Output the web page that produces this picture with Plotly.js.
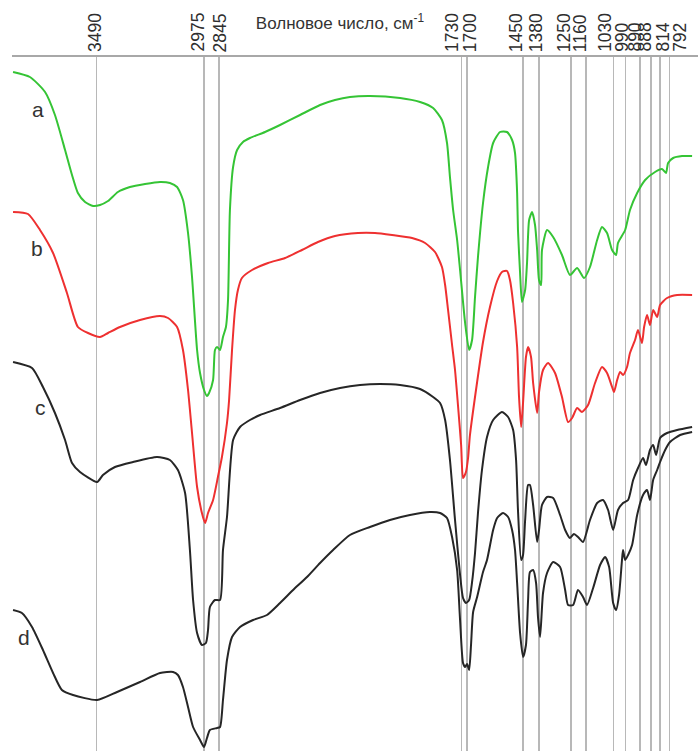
<!DOCTYPE html>
<html>
<head>
<meta charset="utf-8">
<script src="https://cdn.plot.ly/plotly-3.0.1.min.js"></script>
<style>html,body{margin:0;padding:0;background:#fff;}#chart{width:698px;height:751px;}</style>
</head>
<body>
<div id="chart"></div>
<script>
// Wavenumber scale of the plot (cm-1), reversed; peak marker positions and their printed labels
const peakPos    = [3492, 2981, 2910, 1758, 1733, 1467, 1391, 1239, 1166, 1037, 980, 910, 858, 815, 771];
const peakLabels = ["3490","2975","2845","1730","1700","1450","1380","1250","1160","1030","990","890","888","814","792"];

// Spectrum a (green)
const aX = [3888,3808,3736,3689,3641,3608,3580,3546,3508,3475,3437,3390,3333,3261,3190,3143,3109,3081,3057,3038,3014,3000,2981,2967,2957,2938,2929,2919,2905,2891,2877,2867,2858,2843,2824,2796,2763,2691,2620,2525,2430,2359,2288,2193,2050,1955,1893,1851,1827,1813,1798,1779,1765,1741,1722,1708,1694,1680,1656,1632,1608,1575,1542,1518,1504,1494,1490,1480,1471,1456,1447,1437,1423,1409,1399,1390,1380,1376,1352,1323,1281,1243,1209,1176,1148,1114,1091,1067,1043,1024,1015,981,958,924,886,839,806,787,777,753,711,663];
const aY = [679,674,659,636,601,576,558,549,545,546,550,559,564,567,569,568,564,551,518,474,401,378,361,355,358,371,401,404,401,414,424,451,541,584,601,609,613,619,626,636,646,651,654,655,653,649,643,631,608,574,541,511,481,428,401,411,454,494,548,584,608,619,619,611,598,558,521,478,449,461,488,531,539,526,501,471,466,501,521,514,496,476,483,473,484,511,524,518,501,496,508,521,541,558,571,579,582,578,588,593,595,595];

// Spectrum b (red)
const bX = [3888,3817,3760,3698,3632,3580,3532,3475,3437,3380,3285,3190,3152,3109,3081,3057,3038,3014,2991,2976,2962,2938,2915,2896,2872,2862,2848,2834,2820,2801,2753,2677,2596,2516,2440,2359,2250,2169,2088,1993,1931,1884,1851,1836,1822,1803,1789,1775,1760,1751,1737,1727,1718,1684,1656,1623,1589,1566,1542,1528,1513,1494,1485,1475,1466,1452,1442,1428,1418,1399,1390,1371,1347,1314,1281,1252,1233,1209,1186,1157,1124,1091,1067,1043,1034,1019,1005,991,972,958,934,920,901,891,877,863,848,829,815,782,734,663];
const bY = [539,537,521,498,458,424,418,414,418,424,431,435,433,424,401,361,318,264,238,228,238,251,274,294,328,351,401,441,461,473,481,488,493,501,509,515,518,518,516,513,508,499,484,466,441,406,381,346,306,273,279,293,316,369,409,444,470,479,480,471,448,404,354,324,348,394,404,394,368,338,359,381,388,378,354,329,333,343,339,346,368,384,378,364,359,371,379,376,384,398,411,421,408,424,436,426,441,434,446,453,456,456];

// Spectrum c (black, upper)
const cX = [3888,3798,3746,3689,3641,3608,3570,3489,3461,3404,3318,3204,3143,3105,3071,3048,3033,3014,2991,2972,2962,2953,2929,2905,2891,2872,2843,2810,2763,2715,2620,2525,2430,2335,2240,2145,2050,1955,1893,1860,1836,1813,1789,1765,1751,1737,1722,1708,1694,1680,1661,1637,1608,1566,1537,1513,1499,1490,1475,1466,1456,1442,1433,1418,1399,1390,1376,1352,1323,1290,1266,1243,1224,1205,1181,1148,1114,1086,1062,1038,1015,991,967,943,920,896,882,863,848,834,815,782,734,663];
const cY = [389,383,364,338,311,288,279,269,276,284,289,294,291,281,258,201,151,118,106,108,121,144,151,151,201,234,311,324,331,336,343,351,358,363,366,367,366,362,354,348,331,291,231,176,153,148,151,169,198,238,281,314,331,339,334,321,291,241,191,196,231,266,266,246,209,221,246,254,253,236,221,213,217,214,209,231,248,251,241,221,241,248,251,271,283,293,286,301,306,296,313,318,321,324];

// Spectrum d (black, lower)
const dX = [3888,3846,3798,3746,3698,3656,3603,3489,3394,3285,3190,3128,3105,3081,3057,3033,3000,2981,2967,2953,2919,2905,2891,2872,2848,2810,2748,2682,2620,2558,2492,2430,2368,2288,2193,2098,2003,1908,1860,1827,1803,1779,1765,1751,1741,1732,1722,1713,1703,1684,1656,1637,1608,1589,1561,1537,1518,1504,1494,1480,1466,1452,1442,1433,1418,1404,1395,1385,1371,1352,1323,1290,1266,1252,1228,1205,1181,1162,1133,1100,1076,1057,1038,1024,1010,996,991,981,967,948,924,896,877,863,848,829,815,791,768,720,663];
const dY = [141,138,124,101,78,61,56,51,59,69,78,79,76,64,44,24,11,4,13,21,23,24,51,91,114,124,131,136,148,161,174,188,201,216,224,231,236,239,238,233,214,181,131,88,84,87,81,106,139,154,179,191,221,233,238,234,221,201,168,118,94,106,151,179,181,168,134,114,158,178,189,184,161,146,146,161,154,146,163,186,194,184,148,141,156,191,201,191,196,206,236,256,261,251,271,281,289,301,309,316,319];

const seriesNames = ["a","b","c","d"];
const seriesColors = ["#35c435","#ee3030","#262626","#262626"];
const seriesData = [[aX,aY],[bX,bY],[cX,cY],[dX,dY]];
const seriesLabelAt = [[3770,642],[3774,503],[3760,344],[3836,114]];

// label nudges in px (layout only)
const labelNudge = [-2,-7,1,-10,3,-7,-3,-7,-6,-9,-4,-6,-7,2,10];

const traces = seriesData.map((s,i)=>({
  x: s[0], y: s[1], type: 'scatter', mode: 'lines', name: seriesNames[i],
  line: {color: seriesColors[i], width: 2, shape: 'spline', smoothing: 0.6},
  hoverinfo: 'skip', showlegend: false
}));

const font = "Liberation Sans, Arial, sans-serif";
const annotations = [];
peakPos.forEach((p,i)=>{
  annotations.push({
    x: p, xref: 'x', y: 1, yref: 'paper', yanchor: 'bottom', xanchor: 'center',
    yshift: 3, xshift: labelNudge[i], textangle: -90, showarrow: false,
    text: peakLabels[i], font: {family: font, size: 17.5, color: '#2e2e2e'}
  });
});
seriesNames.forEach((n,i)=>{
  annotations.push({
    x: seriesLabelAt[i][0], y: seriesLabelAt[i][1], xref: 'x', yref: 'y',
    text: n, showarrow: false, font: {family: font, size: 21, color: '#333'}
  });
});

const layout = {
  width: 698, height: 751,
  margin: {l: 12, r: 0, t: 57, b: 0, pad: 0},
  paper_bgcolor: '#fff', plot_bgcolor: '#fff',
  title: {
    text: 'Волновое число, см<sup>-1</sup>',
    font: {family: font, size: 17, color: '#333'},
    x: 340/698, xref: 'container', xanchor: 'center',
    y: 1 - 23/751, yref: 'container', yanchor: 'middle'
  },
  xaxis: {
    range: [3893, 635], side: 'top',
    tickmode: 'array', tickvals: peakPos, showticklabels: false, ticks: '',
    showgrid: true, gridcolor: '#b8b8b8', gridwidth: 1.5,
    showline: true, linecolor: '#a8a8a8', linewidth: 2,
    zeroline: false, fixedrange: true
  },
  yaxis: {
    range: [0, 694], visible: false, showgrid: false, zeroline: false, fixedrange: true
  },
  annotations: annotations,
  showlegend: false
};

Plotly.newPlot('chart', traces, layout, {staticPlot: true, displayModeBar: false});
</script>
</body>
</html>
